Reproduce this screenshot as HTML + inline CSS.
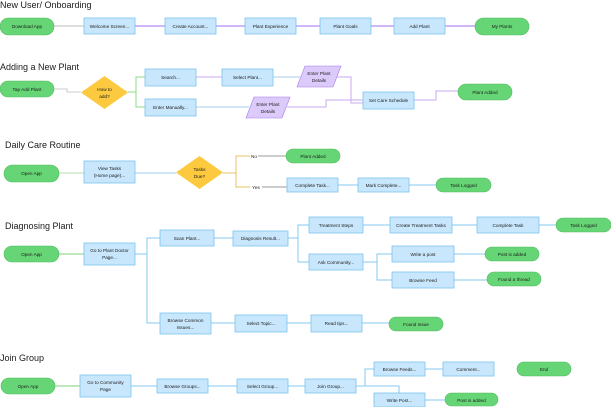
<!DOCTYPE html>
<html><head><meta charset="utf-8"><style>
html,body{margin:0;padding:0;background:#fff;}
svg{display:block;}
text{font-family:"Liberation Sans",sans-serif;}
.t{font-size:9px;fill:#1a1a1a;}
.l{font-size:4.7px;fill:#1a1a1a;text-anchor:middle;}
.g{fill:#66d575;stroke:#52bd62;stroke-width:.6;}
.b{fill:#c8e6fc;stroke:#7cc4ef;stroke-width:.8;}
.p{fill:#dccbfa;stroke:#a57cf0;stroke-width:.6;}
.d{fill:#fcc93f;}
.a{fill:none;stroke-width:1;}
</style></head><body>
<svg width="611" height="407" viewBox="0 0 611 407">
<text class="t" x="0" y="8">New User/ Onboarding</text>
<text class="t" x="0" y="70">Adding a New Plant</text>
<text class="t" x="5" y="148">Daily Care Routine</text>
<text class="t" x="5" y="229">Diagnosing Plant</text>
<text class="t" x="0" y="361">Join Group</text>

<g class="a" stroke="#a46cf0">
<path d="M135 26H165M216 26H245M296 26H320M371 26H394M445 26H475"/>
</g>
<path class="a" stroke="#bbb" d="M54 26H84"/>
<path class="a" stroke="#ccc" d="M54 89H67V92H81"/>
<path class="a" stroke="#8fd98a" d="M128 92H136V77H145M136 92V107H145"/>
<path class="a" stroke="#c9a8f5" d="M196 77H222"/>
<path class="a" stroke="#a7cce8" d="M273 77H300M196 107H249"/>
<path class="a" stroke="#c9a8f5" d="M337 77H351V103H363M287 107H326V100H363M414 100H436V91H458"/>
<path class="a" stroke="#b9d8b0" d="M59 173H84"/>
<path class="a" stroke="#9fd0ef" d="M135 173H176"/>
<path class="a" stroke="#e7c36a" d="M223 173H236V156H250M236 173V187H250"/>
<path class="a" stroke="#999" d="M258 156H286M262 187H287"/>
<path class="a" stroke="#84c9f0" d="M338 185H358M409 185H436"/>
<path class="a" stroke="#7ccf7e" d="M59 254H84"/>
<g class="a" stroke="#84c9f0">
<path d="M135 254H147V238H160M147 254V323H160M214 238H233M288 238H298V225H309M298 238V262H309"/>
<path d="M363 225H390M452 225H477M539 225H556M363 262H377V254H392M377 262V280H392M454 254H485M454 280H487"/>
<path d="M211 323H235M287 323H311M362 323H389"/>
</g>
<path class="a" stroke="#7ccf7e" d="M55 386H80"/>
<g class="a" stroke="#84c9f0">
<path d="M131 386H157M208 386H237M288 386H305M356 386H365V369H374M356 386H399V393M425 369H443M425 400H445"/>
</g>

<rect class="g" x="0" y="18" width="54" height="17" rx="8.5"/><text class="l" x="27" y="28">Download App</text>
<rect class="b" x="84" y="18" width="51" height="16"/><text class="l" x="109.5" y="28">Welcome Screen...</text>
<rect class="b" x="165" y="18" width="51" height="16"/><text class="l" x="190.5" y="28">Create Account...</text>
<rect class="b" x="245" y="18" width="51" height="16"/><text class="l" x="270.5" y="28">Plant Experience</text>
<rect class="b" x="320" y="18" width="51" height="16"/><text class="l" x="345.5" y="28">Plant Goals</text>
<rect class="b" x="394" y="18" width="51" height="16"/><text class="l" x="419.5" y="28">Add Plant</text>
<rect class="g" x="475" y="18" width="54" height="17" rx="8.5"/><text class="l" x="502" y="28">My Plants</text>

<rect class="g" x="0" y="81" width="54" height="16" rx="8"/><text class="l" x="27" y="91">Tap Add Plant</text>
<polygon class="d" points="104.5,76 128,92.5 104.5,109 81,92.5"/><text class="l" x="104.5" y="91">How to</text><text class="l" x="104.5" y="98">add?</text>
<rect class="b" x="145" y="69" width="51" height="17"/><text class="l" x="170.5" y="79">Search...</text>
<rect class="b" x="145" y="99" width="51" height="17"/><text class="l" x="170.5" y="109">Enter Manually...</text>
<rect class="b" x="222" y="69" width="51" height="17"/><text class="l" x="247.5" y="79">Select Plant...</text>
<polygon class="p" points="305,66 341,66 333,87 297,87"/><text class="l" x="319" y="75">Enter Plant</text><text class="l" x="319" y="82">Details</text>
<polygon class="p" points="254,97 290,97 282,118 246,118"/><text class="l" x="268" y="106">Enter Plant</text><text class="l" x="268" y="113">Details</text>
<rect class="b" x="363" y="92" width="51" height="17"/><text class="l" x="388.5" y="102">Set Care Schedule</text>
<rect class="g" x="458" y="84" width="54" height="16" rx="8"/><text class="l" x="485" y="94">Plant Added</text>

<rect class="g" x="4" y="165" width="55" height="17" rx="8.5"/><text class="l" x="31.5" y="175">Open App</text>
<rect class="b" x="84" y="161" width="51" height="22"/><text class="l" x="109.5" y="170">View Tasks</text><text class="l" x="109.5" y="177">(Home page)...</text>
<polygon class="d" points="199.5,156 223,172.5 199.5,189 176,172.5"/><text class="l" x="199.5" y="171">Tasks</text><text class="l" x="199.5" y="178">Due?</text>
<text class="l" x="254" y="158">No</text><text class="l" x="256" y="189">Yes</text>
<rect class="g" x="286" y="149" width="54" height="14" rx="7"/><text class="l" x="313" y="158">Plant Added</text>
<rect class="b" x="287" y="178" width="51" height="14"/><text class="l" x="312.5" y="187">Complete Task...</text>
<rect class="b" x="358" y="178" width="51" height="14"/><text class="l" x="383.5" y="187">Mark Complete...</text>
<rect class="g" x="436" y="178" width="55" height="14" rx="7"/><text class="l" x="463.5" y="187">Task Logged</text>

<rect class="g" x="4" y="246" width="55" height="16" rx="8"/><text class="l" x="31.5" y="256">Open App</text>
<rect class="b" x="84" y="243" width="51" height="22"/><text class="l" x="109.5" y="252">Go to  Plant Doctor</text><text class="l" x="109.5" y="259">Page...</text>
<rect class="b" x="160" y="230" width="54" height="16"/><text class="l" x="187" y="240">Scan Plant...</text>
<rect class="b" x="233" y="231" width="55" height="15"/><text class="l" x="260.5" y="240">Diagnosis Result...</text>
<rect class="b" x="160" y="313" width="51" height="21"/><text class="l" x="185.5" y="322">Browse Common</text><text class="l" x="185.5" y="329">Issues...</text>
<rect class="b" x="235" y="315" width="52" height="17"/><text class="l" x="261" y="325">Select Topic...</text>
<rect class="b" x="309" y="217" width="54" height="16"/><text class="l" x="336" y="227">Treatment Steps</text>
<rect class="b" x="309" y="254" width="54" height="16"/><text class="l" x="336" y="264">Ask Community...</text>
<rect class="b" x="390" y="217" width="62" height="16"/><text class="l" x="421" y="227">Create Treatment Tasks</text>
<rect class="b" x="477" y="217" width="62" height="16"/><text class="l" x="508" y="227">Complete Task</text>
<rect class="g" x="556" y="218" width="55" height="14" rx="7"/><text class="l" x="583.5" y="227">Task Logged</text>
<rect class="b" x="392" y="246" width="62" height="16"/><text class="l" x="423" y="256">Write a post</text>
<rect class="b" x="392" y="272" width="62" height="16"/><text class="l" x="423" y="282">Browse Feed</text>
<rect class="g" x="485" y="247" width="54" height="14" rx="7"/><text class="l" x="512" y="256">Post is added</text>
<rect class="g" x="487" y="272" width="54" height="14" rx="7"/><text class="l" x="514" y="281">Found a thread</text>
<rect class="b" x="311" y="315" width="51" height="17"/><text class="l" x="336.5" y="325">Read tips...</text>
<rect class="g" x="389" y="317" width="54" height="14" rx="7"/><text class="l" x="416" y="326">Found Issue</text>

<rect class="g" x="1" y="378" width="54" height="16" rx="8"/><text class="l" x="28" y="388">Open App</text>
<rect class="b" x="80" y="375" width="51" height="22"/><text class="l" x="105.5" y="384">Go to Community</text><text class="l" x="105.5" y="391">Page</text>
<rect class="b" x="157" y="379" width="51" height="14"/><text class="l" x="182.5" y="388">Browse Groups...</text>
<rect class="b" x="237" y="379" width="51" height="14"/><text class="l" x="262.5" y="388">Select Group...</text>
<rect class="b" x="305" y="379" width="51" height="14"/><text class="l" x="330.5" y="388">Join Group...</text>
<rect class="b" x="374" y="362" width="51" height="14"/><text class="l" x="399.5" y="371">Browse Feeds...</text>
<rect class="b" x="443" y="362" width="51" height="14"/><text class="l" x="468.5" y="371">Comment...</text>
<rect class="g" x="517" y="362" width="54" height="14" rx="7"/><text class="l" x="544" y="371">End</text>
<rect class="b" x="374" y="393" width="51" height="14"/><text class="l" x="399.5" y="402">Write Post...</text>
<rect class="g" x="445" y="393" width="53" height="13" rx="6.5"/><text class="l" x="471.5" y="402">Post is added</text>
</svg>
</body></html>
